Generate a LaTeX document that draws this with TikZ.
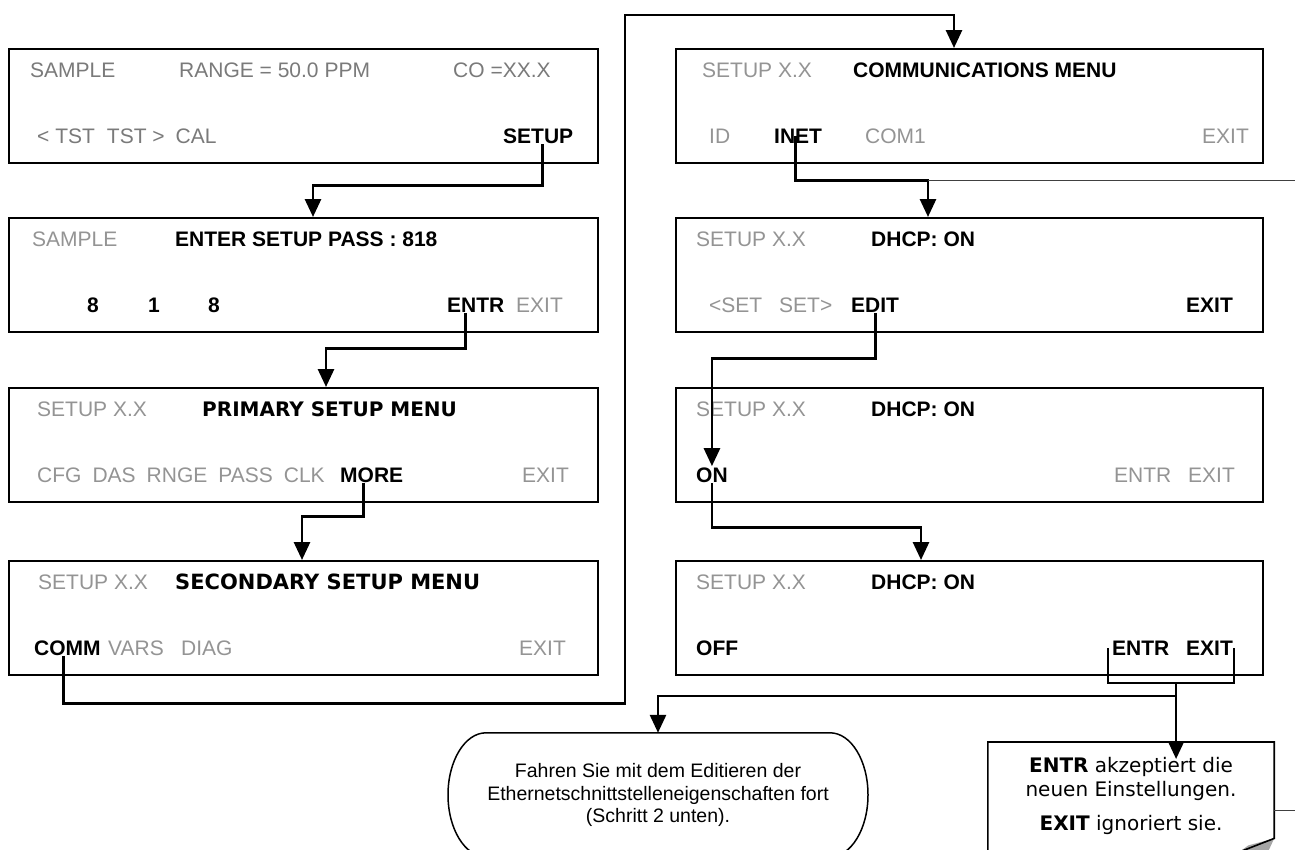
\documentclass[tikz,border=0pt]{standalone}
\usepackage{fontspec}
\setmainfont{Liberation Sans}
\newfontfamily\verd{DejaVu Sans}
\usetikzlibrary{arrows.meta}
\newcommand\gap{\hspace{11pt}}

\begin{document}
\begin{tikzpicture}[
  x=1pt, y=-1pt,
  font=\fontsize{21}{25}\selectfont,
  scr/.style={draw, line width=1.6pt, anchor=north west, minimum width=#1, minimum height=114pt, inner sep=0pt},
  scr/.default=589pt,
  txt/.style={anchor=base west, inner sep=1pt},
  dimtxt/.style={txt, text=black!42},
  idletxt/.style={txt, text=black!52},
  hottxt/.style={txt, font=\fontsize{21}{25}\selectfont\bfseries},
  hdrtxt/.style={txt, font=\fontsize{#1}{24}\selectfont\verd\bfseries},
  hdrtxt/.default=20,
  arr/.style={-{Triangle[width=16pt,length=18pt]}, line width=2.8pt},
  brkline/.style={line width=1.5pt},
  thinl/.style={line width=1.3pt, black!75},
  bubble/.style={minimum width=420pt, minimum height=124pt, align=center, font=\fontsize{19.5}{22.5}\selectfont},
  note/.style={anchor=north, minimum width=286pt, minimum height=108pt, align=center, inner sep=0pt, font=\fontsize{20}{23.5}\selectfont\verd},
]
\useasboundingbox (0,0) rectangle (1295,849);
\clip (0,0) rectangle (1295,849);
\fill[white] (0,0) rectangle (1295,849);

% ---------- left column ----------
\node[scr] (s1) at (8,48) {};
\node[idletxt] (t1a) at (29,77) {SAMPLE};
\node[idletxt] (t1b) at (178,77) {RANGE = 50.0 PPM};
\node[idletxt] (t1c) at (452,77) {CO =XX.X};
\node[idletxt] (t1d) at (36,143) {< TST\hspace{12pt}TST >\gap CAL};
\node[hottxt] (kSetup) at (502,143) {SETUP};

\node[scr] (s2) at (8,217) {};
\node[dimtxt] (t2a) at (31,246) {SAMPLE};
\node[hottxt] (t2b) at (174,246) {ENTER SETUP PASS : 818};
\node[hottxt] (k8a) at (86,312) {8};
\node[hottxt] (k1) at (147,312) {1};
\node[hottxt] (k8b) at (207,312) {8};
\node[hottxt] (kEntr) at (446,312) {ENTR};
\node[dimtxt] (t2x) at (515,312) {EXIT};

\node[scr] (s3) at (8,387) {};
\node[dimtxt] (t3a) at (36,416) {SETUP X.X};
\node[hdrtxt] (t3b) at (201,416) {PRIMARY SETUP MENU};
\node[dimtxt] (t3c) at (36,482) {CFG\gap DAS\gap RNGE\gap PASS\gap CLK};
\node[hottxt] (kMore) at (339,482) {MORE};
\node[dimtxt] (t3x) at (521,482) {EXIT};

\node[scr] (s4) at (8,560) {};
\node[dimtxt] (t4a) at (37,589) {SETUP X.X};
\node[hdrtxt=21] (t4b) at (174,589) {SECONDARY SETUP MENU};
\node[hottxt] (kComm) at (33,655) {COMM};
\node[dimtxt] (t4c) at (107,655) {VARS};
\node[dimtxt] (t4d) at (180,655) {DIAG};
\node[dimtxt] (t4x) at (518,655) {EXIT};

% ---------- right column ----------
\node[scr=587pt] (r1) at (675,48) {};
\node[dimtxt] (u1a) at (701,77) {SETUP X.X};
\node[hottxt] (u1b) at (852,77) {COMMUNICATIONS MENU};
\node[dimtxt] (u1c) at (708,143) {ID};
\node[hottxt] (kInet) at (773,143) {INET};
\node[dimtxt] (u1d) at (864,143) {COM1};
\node[dimtxt] (u1x) at (1201,143) {EXIT};

\node[scr=587pt] (r2) at (675,217) {};
\node[dimtxt] (u2a) at (695,246) {SETUP X.X};
\node[hottxt] (u2b) at (870,246) {DHCP: ON};
\node[dimtxt] (u2c) at (708,312) {<SET};
\node[dimtxt] (u2d) at (778,312) {SET>};
\node[hottxt] (kEdit) at (850,312) {EDIT};
\node[hottxt] (u2x) at (1185,312) {EXIT};

\node[scr=587pt] (r3) at (675,387) {};
\node[dimtxt] (u3a) at (695,416) {SETUP X.X};
\node[hottxt] (u3b) at (870,416) {DHCP: ON};
\node[hottxt] (kOn) at (695,482) {ON};
\node[dimtxt] (u3c) at (1113,482) {ENTR};
\node[dimtxt] (u3x) at (1187,482) {EXIT};

\node[scr=587pt] (r4) at (675,560) {};
\node[dimtxt] (u4a) at (695,589) {SETUP X.X};
\node[hottxt] (u4b) at (870,589) {DHCP: ON};
\node[hottxt] (kOff) at (695,655) {OFF};
\node[hottxt] (kEntrD) at (1111,655) {ENTR};
\node[hottxt] (kExitD) at (1185,655) {EXIT};

% ---------- key presses ----------
\draw[arr] ([xshift=4pt]kSetup.south) -- ++(0,41) -| ([xshift=305pt]s2.north west);
\draw[arr] ([xshift=-10pt]kEntr.south) -- ++(0,35) -| ([xshift=318pt]s3.north west);
\draw[arr] ([xshift=-8pt]kMore.south) -- ++(0,33) -| ([xshift=294pt]s4.north west);
\draw[arr] ([xshift=-4pt]kComm.south) -- ++(0,47) -| (625,15) -| ([xshift=279pt]r1.north west);
\draw[arr] ([xshift=-3pt]kInet.center) -- ++(0,45) -| coordinate[pos=0.5] (inetj) ([xshift=253pt]r2.north west);
\draw[thinl] (inetj) -- ++(380,0);
\draw[arr] (kEdit.south) -- ++(0,45) -| (kOn.north);
\draw[arr] (kOn.south) -- ++(0,44) -| ([xshift=246pt]r4.north west);

% ENTR / EXIT bracket
\draw[brkline] ([shift={(-3,-7)}]kEntrD.base west) |- coordinate[pos=0.77] (fork) ([shift={(0,28)}]kExitD.base east) -- ([shift={(0,-7)}]kExitD.base east);

% ---------- outcome ----------
\node[bubble] (bal) at (658,795) {Fahren Sie mit dem Editieren der\\Ethernetschnittstelleneigenschaften fort\\(Schritt 2 unten).};
\draw[line width=1.5pt] ([xshift=-172pt]bal.north) arc[start angle=90, end angle=270, x radius=38pt, y radius=62pt] -- ++(344,0) arc[start angle=-90, end angle=90, x radius=38pt, y radius=62pt] -- cycle;

\node[note] (note) at (1131,742) {\textbf{ENTR} akzeptiert die\\neuen Einstellungen.\\[11pt]\textbf{EXIT} ignoriert sie.};
\fill[black!35] ([yshift=12pt]note.south east) -- ++(-26,7) -- ++(-8,6) -- ++(28,0) -- cycle;
\draw[line width=1.6pt] (note.south west) -- (note.north west) -- (note.north east) -- ([yshift=12pt]note.south east) -- ++(-36,14);
\draw[thinl] ([yshift=-14pt]note.east) -- ++(30,0);

\draw[arr] (fork) -- (fork |- note.north) -- ++(0,17);
\draw[arr] ([yshift=-13pt]fork) -| (bal.north);
\end{tikzpicture}
\end{document}
